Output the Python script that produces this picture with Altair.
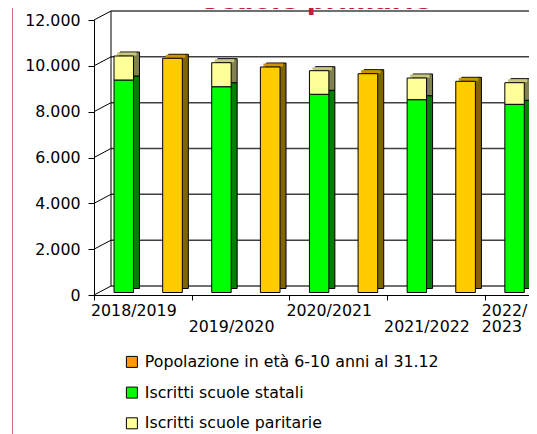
import altair as alt
import pandas as pd

# ---- data ----
years = ["2018/2019", "2019/2020", "2020/2021", "2021/2022", "2022/2023"]
statali = [9273, 8980, 8649, 8413, 8212]
paritarie = [1047, 1048, 1030, 947, 943]
popolazione = [10220, 9840, 9548, 9216, None]
y_ticks = [0, 2000, 4000, 6000, 8000, 10000, 12000]
series_names = ["Popolazione in età 6-10 anni al 31.12",
                "Iscritti scuole statali",
                "Iscritti scuole paritarie"]
title_text = "Scuole primarie"

# ---- styles / layout ----
FONT = "DejaVu Sans"
FS = 15.8
W, H = 435, 275
CAT = 97.7
XMAX = W / CAT
DX, DY = 6, -4          # bar depth
WX, WY = 17, -9         # wall depth
LIFT = -2.5
legend_colors = ["#FF9900", "#00FF00", "#FFFF99"]
front_c = {series_names[0]: "#FFCC00", series_names[1]: "#00FF00", series_names[2]: "#FFFF99"}
side_c = {series_names[0]: "#806600", series_names[1]: "#008000", series_names[2]: "#808050"}
top_c = {series_names[0]: "#C89600", series_names[1]: "#00B000", series_names[2]: "#C8C87A"}

rows = []
for i in range(len(years)):
    rows.append(dict(series=series_names[1], x0=i + 0.205, x1=i + 0.404, y0=0, y1=statali[i]))
    rows.append(dict(series=series_names[2], x0=i + 0.205, x1=i + 0.404,
                     y0=statali[i], y1=statali[i] + paritarie[i]))
    if popolazione[i] is not None:
        rows.append(dict(series=series_names[0], x0=i + 0.703, x1=i + 0.904, y0=0, y1=popolazione[i]))
bars = pd.DataFrame(rows)

lines = []
for i, lab in enumerate(years):
    if i == len(years) - 1:
        a, b = lab.split("/")
        lines.append(dict(x=i, t=a + "/", row=0))
        lines.append(dict(x=i, t=b, row=1))
    else:
        lines.append(dict(x=i, t=lab, row=i % 2))
lab_df = pd.DataFrame(lines)
ticks_df = pd.DataFrame({"v": y_ticks})

xs = alt.Scale(domain=[0, XMAX], nice=False, zero=False)
ys = alt.Scale(domain=[0, 12000], nice=False)
XAX = alt.Axis(values=[0, 1, 2, 3, 4], labels=False, tickSize=5, domainColor="black",
               tickColor="black", grid=False, title=None)
YAX = alt.Axis(values=y_ticks, labelExpr="replace(format(datum.value, ','), ',', '.')",
               tickSize=6, labelPadding=8, domainColor="black", tickColor="black",
               labelFont=FONT, labelFontSize=FS, labelColor="black", grid=False, title=None)

layers = []

# left page border
layers.append(alt.Chart(alt.Data(values=[{}])).mark_rule(color="#D06A78", strokeWidth=1).encode(
    x=alt.value(-81.5), y=alt.value(-30), y2=alt.value(H + 200)))

# back wall grid lines
layers.append(alt.Chart(ticks_df).mark_rule(color="#404040", strokeWidth=1.5, yOffset=WY).encode(
    y=alt.Y("v:Q", scale=ys, axis=YAX), x=alt.value(WX), x2=alt.value(W)))
# side wall diagonals
layers.append(alt.Chart(ticks_df).mark_rule(color="black", strokeWidth=1, y2Offset=WY).encode(
    y=alt.Y("v:Q", scale=ys, axis=YAX), y2=alt.Y2("v"), x=alt.value(0), x2=alt.value(WX)))
# back wall vertical edge
layers.append(alt.Chart(ticks_df).mark_rule(color="black", strokeWidth=1, yOffset=WY, y2Offset=WY).encode(
    y=alt.Y("max(v):Q", scale=ys, axis=YAX), y2=alt.Y2("min(v)"), x=alt.value(WX)))

order = [series_names[1], series_names[2], series_names[0]]
for s in order:
    d = bars[bars.series == s]
    layers.append(alt.Chart(d).mark_rect(
        color=side_c[s], stroke="black", strokeWidth=1,
        xOffset=DX, x2Offset=DX, yOffset=DY + LIFT, y2Offset=DY + LIFT).encode(
        x=alt.X("x0:Q", scale=xs, axis=XAX), x2="x1:Q",
        y=alt.Y("y1:Q", scale=ys, axis=YAX), y2="y0:Q"))
for s in [series_names[2], series_names[0]]:
    d = bars[bars.series == s]
    layers.append(alt.Chart(d).mark_rule(
        color=top_c[s], strokeWidth=3,
        xOffset=DX / 2, x2Offset=DX / 2, yOffset=DY / 2 + LIFT).encode(
        x=alt.X("x0:Q", scale=xs, axis=XAX), x2="x1:Q",
        y=alt.Y("y1:Q", scale=ys, axis=YAX)))
for s in order:
    d = bars[bars.series == s]
    layers.append(alt.Chart(d).mark_rect(
        color=front_c[s], stroke="black", strokeWidth=1,
        yOffset=LIFT, y2Offset=LIFT).encode(
        x=alt.X("x0:Q", scale=xs, axis=XAX), x2="x1:Q",
        y=alt.Y("y1:Q", scale=ys, axis=YAX), y2="y0:Q"))

# category labels (staggered)
for r, yy in [(0, H + 21), (1, H + 36.5)]:
    layers.append(alt.Chart(lab_df[lab_df.row == r]).mark_text(
        align="left", baseline="alphabetic", dx=-3, font=FONT, fontSize=FS, color="black").encode(
        x=alt.X("x:Q", scale=xs, axis=XAX), y=alt.value(yy), text="t:N"))

# title (clipped at top like the reference)
layers.append(alt.Chart(alt.Data(values=[{"t": title_text}])).mark_text(
    align="center", baseline="alphabetic", font=FONT, fontSize=26, fontWeight="bold",
    color="#C0203C").encode(x=alt.value(222), y=alt.value(-11), text="t:N"))

# legend carrier
layers.append(alt.Chart(bars).mark_square(opacity=0).encode(
    x=alt.X("x0:Q", scale=xs, axis=XAX), y=alt.Y("y1:Q", scale=ys, axis=YAX),
    color=alt.Color("series:N", scale=alt.Scale(domain=series_names, range=legend_colors),
                    legend=alt.Legend(orient="none", legendX=30, legendY=334, title=None,
                                      symbolType="square", symbolSize=121,
                                      symbolStrokeColor="black", symbolStrokeWidth=1,
                                      symbolOpacity=1, labelFont=FONT, labelFontSize=FS,
                                      labelColor="black", rowPadding=13.7, labelOffset=5,
                                      direction="vertical", labelLimit=400))))

chart = alt.layer(*layers).properties(
    width=W, height=H,
    autosize=alt.AutoSizeParams(type="none"),
    padding={"left": 86, "top": 12, "right": 0, "bottom": 139},
).configure_view(stroke=None)

chart.save("out.html", embed_options={"renderer": "svg", "actions": False})
